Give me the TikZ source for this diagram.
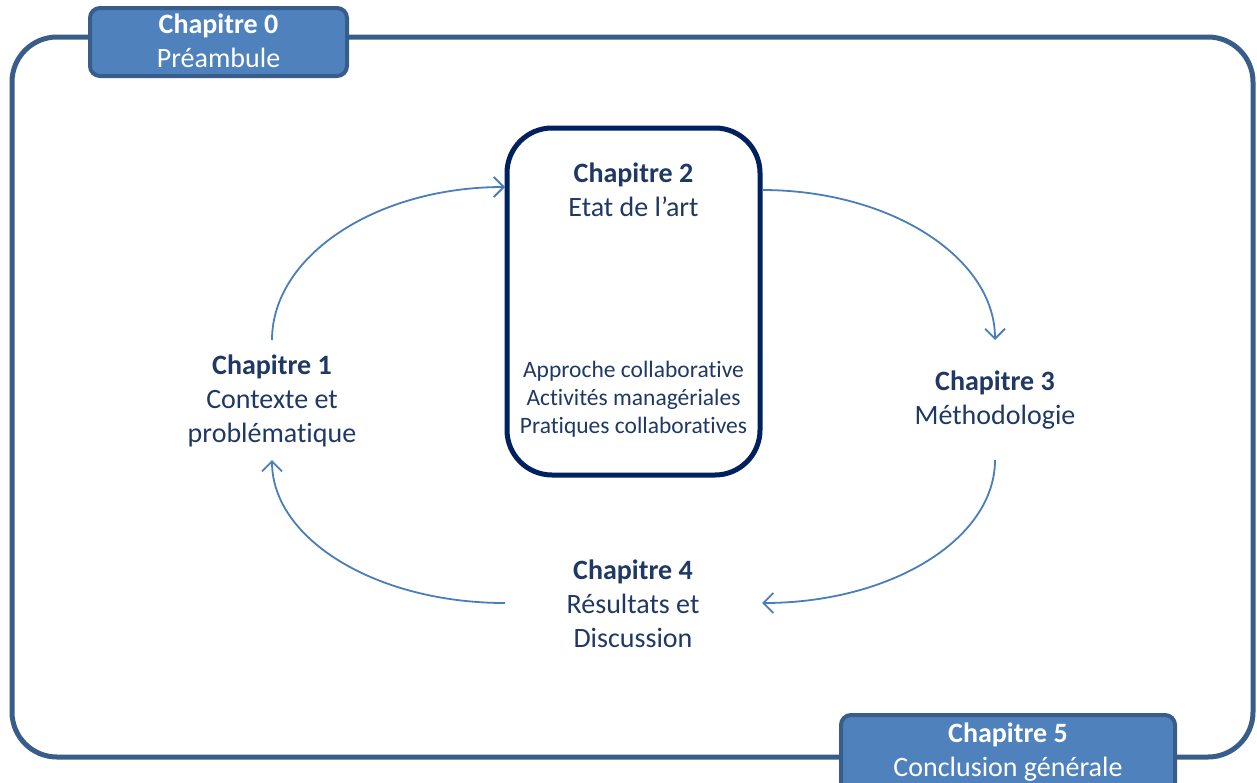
\documentclass[tikz,border=0pt]{standalone}
\usepackage{fontspec}
\setmainfont{Carlito}[Ligatures={NoCommon,NoRequired,NoContextual}]
\usetikzlibrary{arrows.meta}
\definecolor{txt}{HTML}{1F3864}
\definecolor{boxfill}{HTML}{4F81BD}
\definecolor{boxline}{HTML}{385D8A}
\definecolor{navy}{HTML}{002060}
\definecolor{arr}{HTML}{4A7EBB}
\tikzset{
  chapbox/.style={draw=boxline, line width=4pt, fill=boxfill, rounded corners=10pt, text=white, align=center, font=\fontsize{28}{34}\selectfont, inner sep=0pt},
  chaptext/.style={text=txt, align=center, font=\fontsize{28}{34}\selectfont, inner sep=0pt},
  smalltext/.style={text=txt, align=center, font=\fontsize{23.5}{28}\selectfont, inner sep=0pt},
  flow/.style={draw=arr, line width=1.8pt, -{Straight Barb[length=10pt,width=20pt,line width=1.8pt]}},
}
\begin{document}
\begin{tikzpicture}[x=1pt,y=-1pt]
\useasboundingbox (0,0) rectangle (1257,782);
% outer frame
\draw[boxline, line width=5pt, rounded corners=45pt] (12,37) rectangle (1253,757);
% chapter 0 box
\draw[chapbox] (90,8) rectangle (347,76);
\node[chapbox, draw=none, fill=none] (c0) at (218.5,41) {\textbf{Chapitre 0}\\Préambule};
% chapter 5 box
\draw[chapbox] (841,715) rectangle (1175,800);
\node[chapbox, draw=none, fill=none] (c5) at (1008,752) {\textbf{Chapitre 5}\\Conclusion générale};
% chapter 2 box
\draw[navy, line width=5pt, rounded corners=45pt] (507,128) rectangle (760,475);
\node[chaptext] (c2) at (633.5,190) {\textbf{Chapitre 2}\\Etat de l’art};
\node[smalltext] (c2b) at (633.5,399) {Approche collaborative\\Activités managériales\\Pratiques collaboratives};
% other chapters
\node[chaptext] (c1) at (272,401) {\textbf{Chapitre 1}\\Contexte et\\problématique};
\node[chaptext] (c3) at (995,400) {\textbf{Chapitre 3}\\Méthodologie};
\node[chaptext] (c4) at (633,604) {\textbf{Chapitre 4}\\Résultats et\\Discussion};
% connector endpoints
\coordinate (a1s) at (272,340);
\coordinate (a1e) at (505,187);
\coordinate (a2s) at (762,190);
\coordinate (a2e) at (995,340);
\coordinate (a3s) at (995,460);
\coordinate (a3e) at (762,603);
\coordinate (a4s) at (505,603);
\coordinate (a4e) at (272,460);
\draw[flow] (a1s) .. controls (272,256) and (376,187) .. (a1e);
\draw[flow] (a2s) .. controls (891,190) and (995,258) .. (a2e);
\draw[flow] (a3s) .. controls (995,539) and (891,603) .. (a3e);
\draw[flow] (a4s) .. controls (376,603) and (272,539) .. (a4e);
\end{tikzpicture}
\end{document}
